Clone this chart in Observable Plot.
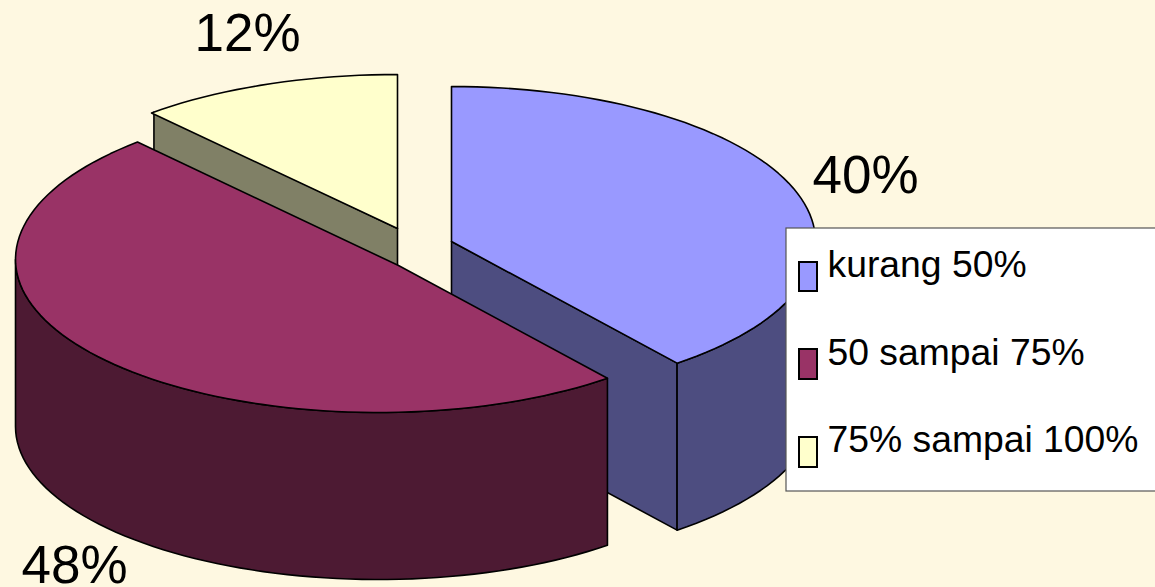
<!DOCTYPE html>
<html>
<head>
<meta charset="utf-8">
<script src="https://cdn.jsdelivr.net/npm/d3@7"></script>
<script src="https://cdn.jsdelivr.net/npm/@observablehq/plot@0.6"></script>
<style>
html,body{margin:0;padding:0;background:#fef8e1;overflow:hidden}
svg{display:block}
</style>
</head>
<body>
<div id="chart"></div>
<script>
const categories = ["kurang 50%", "50 sampai 75%", "75% sampai 100%"];
const values = [40, 48, 12];
const topColors = ["#9999ff", "#993366", "#ffffcc"];
const wallColors = ["#4d4d80", "#4d1a33", "#808066"];
const bgColor = "#fef8e1";

// 3D projection of each exploded slice: apex, ellipse centre and radii, angle corrections
const apexX = [451, 398, 397];
const apexY = [241, 265, 228];
const ellipseX = [451, 378, 397];
const ellipseY = [241, 259, 228];
const radiusX = [364, 363, 372];
const radiusYFront = [155, 153, 154];
const radiusYBack = [155, 157, 154];
const startShift = [0, -3.1, 1.8];
const endShift = [-2.3, 1.6, 0];
const radialWall = ["end", null, "start"];
const depth = 167;
const drawOrder = [0, 2, 1];

const total = d3.sum(values);
let acc = 0;
const slices = values.map((v, i) => {
  const a0 = acc / total * 360;
  acc += v;
  const a1 = acc / total * 360;
  return {i, t0: a0 + startShift[i], t1: a1 + endShift[i]};
});
function rim(i, t0, t1, dy = 0) {
  const n = Math.max(2, Math.ceil((t1 - t0) / 2));
  return d3.range(n + 1).map(k => {
    const t = (t0 + (t1 - t0) * k / n) * Math.PI / 180;
    const c = Math.cos(t);
    const ry = c > 0 ? radiusYBack[i] : radiusYFront[i];
    return {x: ellipseX[i] + radiusX[i] * Math.sin(t), y: ellipseY[i] - ry * c + dy};
  });
}
const close = p => [...p, p[0]];
const face = (pts, fill) => Plot.line(close(pts), {
  x: "x", y: "y", fill, stroke: "#000", strokeWidth: 1.6, curve: "linear", strokeLinejoin: "round"
});

const pieMarks = [];
for (const i of drawOrder) {
  const s = slices[i];
  const apex = {x: apexX[i], y: apexY[i]};
  const apexLow = {x: apexX[i], y: apexY[i] + depth};
  if (radialWall[i]) {
    const e = rim(i, s.t0 + 0.5, s.t1);
    const p = radialWall[i] === "end" ? e[e.length - 1] : e[0];
    pieMarks.push(face([apex, p, {x: p.x, y: p.y + depth}, apexLow], wallColors[i]));
  }
  const w0 = Math.max(s.t0, 90), w1 = Math.min(s.t1, 270);
  if (w1 > w0) {
    pieMarks.push(face([...rim(i, w0, w1), ...rim(i, w0, w1, depth).reverse()], wallColors[i]));
  }
  pieMarks.push(face([apex, ...rim(i, s.t0, s.t1)], topColors[i]));
}

// Label and legend placement
const labelX = [812, 21, 194];
const labelY = [176, 566, 34];
const labelRows = values.map((v, i) => ({text: v + "%", x: labelX[i], y: labelY[i]}));
const swatchTop = [262, 349, 437];
const swatchBottom = [291, 379, 467];
const legendTextY = [265, 353, 440];
const legendRows = categories.map((c, i) => ({
  c, fill: topColors[i], y1: swatchTop[i], y2: swatchBottom[i], ty: legendTextY[i]
}));

const chart = Plot.plot({
  width: 1155, height: 587,
  margin: 0,
  style: {background: bgColor, fontFamily: "'Liberation Sans', Arial, sans-serif"},
  x: {domain: [0, 1155], range: [0, 1155], axis: null},
  y: {domain: [0, 587], range: [0, 587], axis: null},
  marks: [
    ...pieMarks,
    Plot.text(labelRows, {x: "x", y: "y", text: "text", textAnchor: "start", fontSize: 53, fill: "#000"}),
    Plot.rect([{x1: 786, x2: 1160, y1: 228, y2: 491}], {
      x1: "x1", x2: "x2", y1: "y1", y2: "y2", fill: "#fff", stroke: "#555", strokeWidth: 1.2
    }),
    Plot.rect(legendRows, {
      x1: () => 799, x2: () => 817, y1: "y1", y2: "y2", fill: d => d.fill, stroke: "#000", strokeWidth: 2
    }),
    Plot.text(legendRows, {x: () => 827, y: "ty", text: "c", textAnchor: "start", fontSize: 37.3, fill: "#000"})
  ]
});
document.getElementById("chart").appendChild(chart);
</script>
</body>
</html>
